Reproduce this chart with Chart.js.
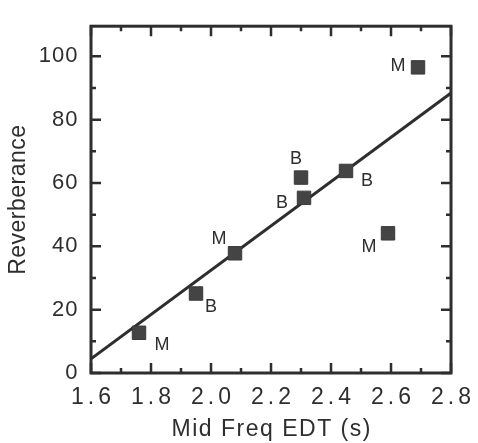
<!DOCTYPE html>
<html>
<head>
<meta charset="utf-8">
<title>Reverberance vs Mid Freq EDT</title>
<script src="https://cdn.jsdelivr.net/npm/chart.js@4.4.1/dist/chart.umd.min.js"></script>
<style>
  html, body { margin: 0; padding: 0; background: #fff; }
  #wrap { width: 478px; height: 443px; }
</style>
</head>
<body>
<div id="wrap"><canvas id="myChart"></canvas></div>
<script>
// -------------------- Data -------------------- //

var edtValues    = [1.76, 1.95, 2.08, 2.30, 2.31, 2.45, 2.59, 2.69];   // mid freq EDT (s)
var reverbValues = [12.7, 25.1, 37.8, 61.7, 55.3, 63.8, 44.1, 96.5];   // reverberance
var hallLetters  = ["M", "B", "M", "B", "B", "B", "M", "M"];

var fitEdt    = [1.6, 2.8];   // ends of the fitted line
var fitReverb = [4.5, 88.4];

var xTickLabels = [1.6, 1.8, 2.0, 2.2, 2.4, 2.6, 2.8];
var yTickLabels = [0, 20, 40, 60, 80, 100];
var xTitle = "Mid Freq EDT (s)";
var yTitle = "Reverberance";

// -------------------- Look -------------------- //

var ink = "#2e2e2e";
var fontName = "'Liberation Sans', Arial, sans-serif";
var letterNudge = [[23, 12], [15, 14], [-16, -14], [-5, -19], [-22, 5], [21, 10], [-19, 14], [-20, -1]]; // px from each square

var points = [];
for (var i = 0; i < edtValues.length; i++) {
  points.push({ x: edtValues[i], y: reverbValues[i] });
}
var fitLine = [];
for (var j = 0; j < fitEdt.length; j++) {
  fitLine.push({ x: fitEdt[j], y: fitReverb[j] });
}

// wraps a scale draw function so its text gets spread out a bit
function spreadText(scale, fnName, px, shift) {
  var orig = scale[fnName];
  scale[fnName] = function (area) {
    var ctx = this.ctx;
    ctx.save();
    ctx.letterSpacing = px + "px";
    if (shift) ctx.translate(px / 2, 0);   // canvas adds spacing after the last letter too
    orig.call(this, area);
    ctx.restore();
  };
}

// -------------------- Plugins -------------------- //

var spacingPlugin = {
  id: "spacing",
  beforeDraw: function (chart) {
    var xs = chart.scales.x, ys = chart.scales.y;
    if (xs._spread) return;
    spreadText(xs, "drawLabels", 4, true);
    spreadText(xs, "drawTitle", 1.5, true);
    spreadText(ys, "drawLabels", 1, true);
    spreadText(ys, "drawTitle", 0.5, false);
    xs._spread = true;
  }
};

var frameTicks = {   // box round the plot, ticks pointing inward on all four sides
  id: "frameTicks",
  afterDraw: function (chart) {
    var ctx = chart.ctx, a = chart.chartArea;
    var xs = chart.scales.x, ys = chart.scales.y;
    ctx.save();
    ctx.strokeStyle = ink;
    ctx.lineWidth = 2.5;
    ctx.beginPath();
    for (var i = 0; i < xTickLabels.length; i++) {
      var marks = [[xTickLabels[i], 10]];
      if (i < xTickLabels.length - 1) marks.push([(xTickLabels[i] + xTickLabels[i + 1]) / 2, 5]);
      for (var k = 0; k < marks.length; k++) {
        var px = xs.getPixelForValue(marks[k][0]);
        ctx.moveTo(px, a.bottom); ctx.lineTo(px, a.bottom - marks[k][1]);
        ctx.moveTo(px, a.top);    ctx.lineTo(px, a.top + marks[k][1]);
      }
    }
    for (var n = 0; n < yTickLabels.length; n++) {
      var ymarks = [[yTickLabels[n], 10]];
      if (n < yTickLabels.length - 1) ymarks.push([(yTickLabels[n] + yTickLabels[n + 1]) / 2, 5]);
      for (var m = 0; m < ymarks.length; m++) {
        var py = ys.getPixelForValue(ymarks[m][0]);
        ctx.moveTo(a.left, py);  ctx.lineTo(a.left + ymarks[m][1], py);
        ctx.moveTo(a.right, py); ctx.lineTo(a.right - ymarks[m][1], py);
      }
    }
    ctx.stroke();
    ctx.lineWidth = 3;
    ctx.strokeRect(a.left, a.top, a.right - a.left, a.bottom - a.top);
    ctx.restore();
  }
};

var letterPlugin = {   // the M / B next to each square
  id: "letters",
  afterDatasetsDraw: function (chart) {
    var ctx = chart.ctx;
    var meta = chart.getDatasetMeta(0);
    ctx.save();
    ctx.fillStyle = ink;
    ctx.font = "18px " + fontName;
    ctx.textAlign = "center";
    ctx.textBaseline = "middle";
    for (var i = 0; i < meta.data.length; i++) {
      var el = meta.data[i];
      ctx.fillText(hallLetters[i], el.x + letterNudge[i][0], el.y + letterNudge[i][1]);
    }
    ctx.restore();
  }
};

// -------------------- Chart -------------------- //

var chartDiv = document.getElementById("myChart").getContext("2d");
var chart = new Chart(chartDiv, {
  type: "scatter",
  data: {
    datasets: [
      {
        label: "halls",
        data: points,
        order: 0,
        pointStyle: "rect",
        pointRadius: 9.5,
        pointHoverRadius: 9.5,
        backgroundColor: "#444",
        borderColor: "#3a3a3a",
        borderWidth: 1
      },
      {
        type: "line",
        label: "fit",
        data: fitLine,
        order: 1,
        borderColor: ink,
        borderWidth: 3,
        pointRadius: 0,
        fill: false
      }
    ]
  },
  options: {
    responsive: true,
    maintainAspectRatio: false,
    animation: false,
    layout: { padding: { top: 11, right: 22, bottom: 0, left: 0 } },
    plugins: {
      legend: { display: false },
      tooltip: { enabled: false }
    },
    scales: {
      x: {
        type: "linear",
        min: 1.6,
        max: 2.8,
        afterBuildTicks: function (scale) {
          scale.ticks = xTickLabels.map(function (v) { return { value: v }; });
        },
        afterFit: function (scale) { scale.height = 70; },
        grid: { display: false, drawTicks: false },
        border: { display: false },
        ticks: {
          padding: 11,
          color: ink,
          font: { family: fontName, size: 23 },
          callback: function (v) { return Number(v).toFixed(1); }
        },
        title: {
          display: true,
          text: xTitle,
          color: ink,
          font: { family: fontName, size: 23 },
          padding: { top: 0, bottom: 0 }
        }
      },
      y: {
        type: "linear",
        min: 0,
        max: 109.5,
        afterBuildTicks: function (scale) {
          scale.ticks = yTickLabels.map(function (v) { return { value: v }; });
        },
        afterFit: function (scale) { scale.width = 91; },
        grid: { display: false, drawTicks: false },
        border: { display: false },
        ticks: {
          padding: 13,
          color: ink,
          font: { family: fontName, size: 22 }
        },
        title: {
          display: true,
          text: yTitle,
          color: ink,
          font: { family: fontName, size: 23 },
          padding: { top: 5, bottom: 0 }
        }
      }
    }
  },
  plugins: [spacingPlugin, frameTicks, letterPlugin]
});
</script>
</body>
</html>
